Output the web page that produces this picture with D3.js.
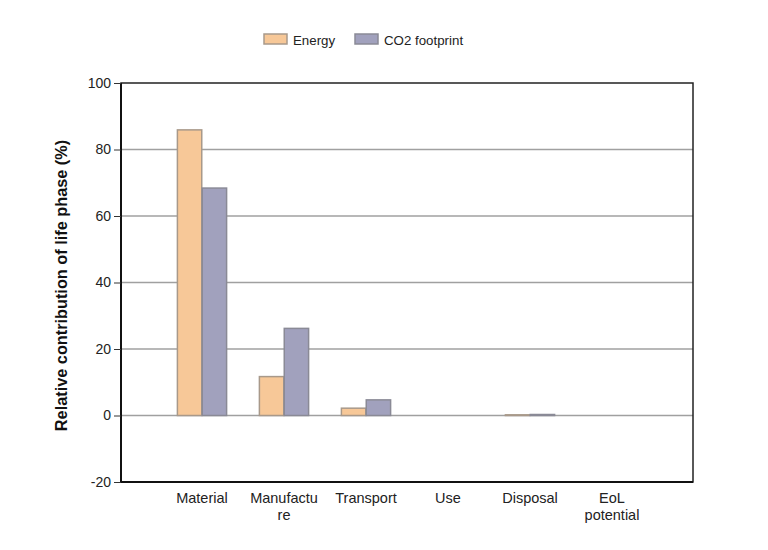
<!DOCTYPE html>
<html><head><meta charset="utf-8">
<script src="https://cdn.jsdelivr.net/npm/d3@7"></script>
<style>body{margin:0;background:#fff}svg{display:block}text{font-family:"Liberation Sans",Arial,sans-serif}</style>
</head><body>
<svg id="c" width="768" height="550"></svg>
<script>
const categories = [["Material"],["Manufactu","re"],["Transport"],["Use"],["Disposal"],["EoL","potential"]];
const series = ["Energy","CO2 footprint"];
const energy = [85.9, 11.7, 2.2, 0, 0.2, 0];
const co2 = [68.4, 26.2, 4.7, 0, 0.3, 0];
const yTicks = [-20, 0, 20, 40, 60, 80, 100];
const colors = ["#f7c898", "#a1a1bd"];
const strokes = ["#a8998a", "#8a8a96"];

const svg = d3.select("#c");
const L = 121, R = 693, T = 83, B = 482;
const y = d3.scaleLinear().domain([-20, 100]).range([B, T]);
const x = d3.scaleBand().domain(d3.range(categories.length)).range([161, 653]).paddingInner(0.4).paddingOuter(0.2);
const xs = d3.scaleBand().domain([0,1]).range([0, x.bandwidth()]).paddingInner(0.02);

// gridlines
svg.append("g").selectAll("line").data(yTicks.filter(d => d > -20 && d < 100)).join("line")
  .attr("x1", L).attr("x2", R).attr("y1", d => y(d)).attr("y2", d => y(d))
  .attr("stroke", "#a0a0a0").attr("stroke-width", 1.5);

// bars
const data = [energy, co2];
const g = svg.append("g");
data.forEach((vals, si) => {
  g.selectAll(".b" + si).data(vals).join("rect")
    .attr("x", (d, i) => x(i) + xs(si))
    .attr("width", xs.bandwidth())
    .attr("y", d => y(Math.max(0, d)))
    .attr("height", d => Math.abs(y(d) - y(0)))
    .attr("fill", colors[si]).attr("stroke", strokes[si]).attr("stroke-width", 1.5)
    .style("display", d => d === 0 ? "none" : null);
});

// frame
svg.append("rect").attr("x", L).attr("y", T).attr("width", R - L).attr("height", B - T)
  .attr("fill", "none").attr("stroke", "#222").attr("stroke-width", 1.5);
svg.append("line").attr("x1", L).attr("x2", L).attr("y1", T).attr("y2", B).attr("stroke", "#111").attr("stroke-width", 2);
svg.append("line").attr("x1", L).attr("x2", R).attr("y1", B).attr("y2", B).attr("stroke", "#111").attr("stroke-width", 2);

// y axis
const yAxis = d3.axisLeft(y).tickValues(yTicks).tickSize(7).tickPadding(3).tickFormat(d => String(d));
const ya = svg.append("g").attr("transform", `translate(${L},0)`).call(yAxis);
ya.select(".domain").remove();
ya.selectAll(".tick line").attr("stroke", "#333");
ya.selectAll(".tick text").attr("font-size", 14).attr("fill", "#222").attr("font-family", "Liberation Sans, Arial, sans-serif");

// x labels
const xl = svg.append("g");
categories.forEach((lines, i) => {
  const cx = x(i) + x.bandwidth() / 2;
  const t = xl.append("text").attr("x", cx).attr("y", 503)
    .attr("text-anchor", "middle").attr("font-size", 14.5).attr("fill", "#222");
  lines.forEach((ln, j) => t.append("tspan").attr("x", cx).attr("dy", j === 0 ? 0 : 17).text(ln));
});

// y title
svg.append("text").attr("transform", `translate(67,${(T + B) / 2 + 3}) rotate(-90)`)
  .attr("text-anchor", "middle").attr("font-size", 16.3).attr("font-weight", "bold").attr("fill", "#111")
  .text("Relative contribution of life phase (%)");

// legend
const leg = svg.append("g");
const lx = [264, 355];
series.forEach((s, i) => {
  leg.append("rect").attr("x", lx[i]).attr("y", 34).attr("width", 23).attr("height", 10)
    .attr("fill", colors[i]).attr("stroke", strokes[i]).attr("stroke-width", 1.5);
  leg.append("text").attr("x", lx[i] + 29).attr("y", 44.5).attr("font-size", 13.3).attr("fill", "#222").text(s);
});
</script>
</body></html>
